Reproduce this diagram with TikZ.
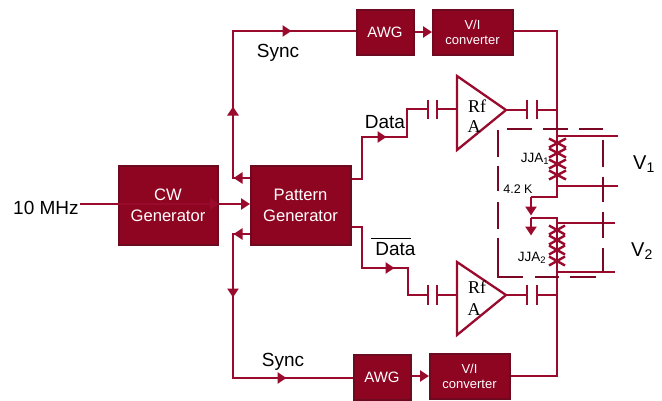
\documentclass[tikz,border=0pt]{standalone}
\usepackage{fontspec}
\setmainfont{Liberation Sans}
\newfontfamily\rfserif{Liberation Serif}
\usetikzlibrary{arrows.meta,shapes.geometric,positioning}
\definecolor{boxfill}{HTML}{8E0522}
\definecolor{boxedge}{HTML}{6E0A20}
\definecolor{wirec}{HTML}{990A2C}
\definecolor{dashc}{HTML}{7A0825}
\tikzset{
 x=1pt,y=-1pt,
 blockbox/.style={draw=boxedge,line width=2pt,fill=boxfill,text=white,align=center,inner sep=0pt,font=\fontsize{16.6}{19}\selectfont},
 awgbox/.style={blockbox,minimum width=57pt,minimum height=45pt,font=\fontsize{15}{17}\selectfont},
 smallbox/.style={blockbox,minimum width=80pt,minimum height=45pt,font=\fontsize{13}{15}\selectfont},
 wire/.style={draw=wirec,line width=2.3pt,line join=miter},
 flow/.style={wire,-{Triangle[length=9pt,width=11pt]},shorten >=-0.5pt},
 plate/.style={draw=wirec,line width=2.8pt},
 lbl/.style={inner sep=0pt,font=\fontsize{19}{22}\selectfont},
 amp/.style={draw=wirec,line width=2.3pt,fill=white,line join=miter},
 rf/.style={inner sep=0pt,font=\rfserif\fontsize{18}{20}\selectfont},
 dashbox/.style={draw=dashc,line width=2.6pt},
 junction/.style={draw=wirec,line width=2.4pt},
 small/.style={inner sep=0pt,font=\fontsize{13.5}{16}\selectfont},
}
\begin{document}
\begin{tikzpicture}
\useasboundingbox (0,0) rectangle (662,400);
% blocks
\node[blockbox,minimum width=99pt,minimum height=79pt] (cw) at (168,205) {CW\\[2pt]Generator};
\node[blockbox,minimum width=100pt,minimum height=79pt] (pg) at (300.5,205) {Pattern\\[2pt]Generator};
\node[awgbox] (awgt) at (385,32.5) {AWG};
\node[smallbox] (vit) at (472.5,32) {V/I\\converter};
\node[awgbox] (awgb) at (382,377) {AWG};
\node[smallbox] (vib) at (469.5,376) {V/I\\converter};
% coordinates
\coordinate (src) at (80,204);
\coordinate (cwr) at (cw.east|-src);
\coordinate (pgl) at (pg.west|-src);
\coordinate (st) at (233,178);
\coordinate (stl) at (pg.west|-st);
\coordinate (sb) at (233,234);
\coordinate (sbl) at (pg.west|-sb);
\coordinate (tc) at (233,31);
\coordinate (bc) at (233,378);
\coordinate (rail) at (557,31);
\coordinate (railb) at (557,376);
% amplifiers
\draw[amp] (457,76) coordinate (ta1) -- (506,110) coordinate (tout) -- (457,150) -- cycle;
\draw[amp] (457,262) -- (506,295) coordinate (bout) -- (457,335) -- cycle;
\node[rf,anchor=center] (rft) at (477,106) {Rf};
\node[rf,anchor=center] (at) at (474,127) {A};
\node[rf,anchor=center] (rfb) at (477,287) {Rf};
\node[rf,anchor=center] (ab) at (474,310) {A};
% source
\node[lbl,anchor=west] (mhz) at (13,208) {10 MHz};
\draw[flow] (src) -- (cwr);
\draw[flow] (cwr) -- (pgl);
% sync top
\draw[wire] (stl) -- (st) -- (tc) -- (awgt.west|-tc);
\draw[flow] (stl) -- (234,178);
\draw[flow] (233,140) -- (233,107);
\draw[flow] (240,31) -- (291,31);
\draw[flow] (awgt.east|-vit) -- (vit.west);
\node[lbl] (synct) at (278,52.5) {Sync};
% sync bottom
\draw[wire] (sbl) -- (sb) -- (bc) -- (awgb.west|-bc);
\draw[flow] (sbl) -- (234,234);
\draw[flow] (233,250) -- (233,297);
\draw[flow] (240,378) -- (286,378);
\draw[flow] (awgb.east|-vib) -- (vib.west);
\node[lbl] (syncb) at (283,361.5) {Sync};
% data top
\draw[wire] (pg.east|-st) ++(0,1) -- (362,179) -- (362,137) -- (407,137) -- (407,109) -- (428,109);
\draw[flow] (365,137) -- (386,137);
\draw[plate] (428,100) -- (428,119);
\draw[plate] (437,100) -- (437,119);
\draw[wire] (437,109) -- (457,109);
\node[lbl] (datat) at (385,122.5) {Data};
% data bottom
\draw[wire] (pg.east|-sb) ++(0,-7) -- (362,227) -- (362,268) -- (408,268) -- (408,295) -- (428,295);
\draw[flow] (365,268) -- (394,268);
\draw[plate] (428,285) -- (428,305);
\draw[plate] (437,285) -- (437,305);
\draw[wire] (437,295) -- (457,295);
\node[lbl] (datab) at (395.5,249) {Data};
\draw[line width=0.8pt] (371,238.5) -- (411,238.5);
% amp outputs
\draw[wire] (tout) -- (527,110);
\draw[plate] (527,100) -- (527,119);
\draw[plate] (537,100) -- (537,119);
\draw[wire] (537,110) -- (557,110);
\draw[wire] (bout) -- (527,295);
\draw[plate] (527,285) -- (527,305);
\draw[plate] (537,285) -- (537,305);
\draw[wire] (537,295) -- (557,295);
% rails
\draw[wire] (vit.east|-rail) -- (rail) -- (557,197) -- (531,197);
\draw[flow] (531,197) -- (531,215);
\draw[wire] (531,218) -- (557,218) -- (railb) -- (vib.east|-railb);
\draw[flow] (531,218) -- (531,235);
\draw[wire] (557,136) -- (618,136);
\draw[wire] (557,186) -- (618,186);
\draw[wire] (557,223) -- (615,223);
\draw[wire] (557,272) -- (615,272);
% junction arrays
\foreach \yc in {143,153,164,175}{\draw[junction] (549,\yc-4.5) -- (566,\yc+4.5) (549,\yc+4.5) -- (566,\yc-4.5);}
\foreach \yc in {230,240,250,261}{\draw[junction] (549,\yc-4.5) -- (565,\yc+4.5) (549,\yc+4.5) -- (565,\yc-4.5);}
% cryostat outline
\draw[dashbox] (498,130) -- (498,157) (498,166) -- (498,191);
\draw[dashbox] (498,202) -- (498,229) (498,238) -- (498,277) -- (523,277);
\draw[dashbox] (535,277) -- (559,277) (570,277) -- (596,277);
\draw[dashbox] (507,129) -- (532,129) (543,129) -- (568,129) (579,129) -- (603,129);
\draw[dashbox] (603,140) -- (603,167) (603,177) -- (603,202) (603,212) -- (603,238) (603,248) -- (603,272);
% labels
\node[small] (jja1) at (535,159) {JJA\textsubscript{1}};
\node[small] (jja2) at (532,258) {JJA\textsubscript{2}};
\node[inner sep=0pt,font=\fontsize{12.5}{14}\selectfont] (temp) at (518,189) {4.2 K};
\node[inner sep=0pt,font=\fontsize{20}{22}\selectfont] (v1) at (644,164) {V\textsubscript{1}};
\node[inner sep=0pt,font=\fontsize{20}{22}\selectfont] (v2) at (642,251) {V\textsubscript{2}};
\end{tikzpicture}
\end{document}
